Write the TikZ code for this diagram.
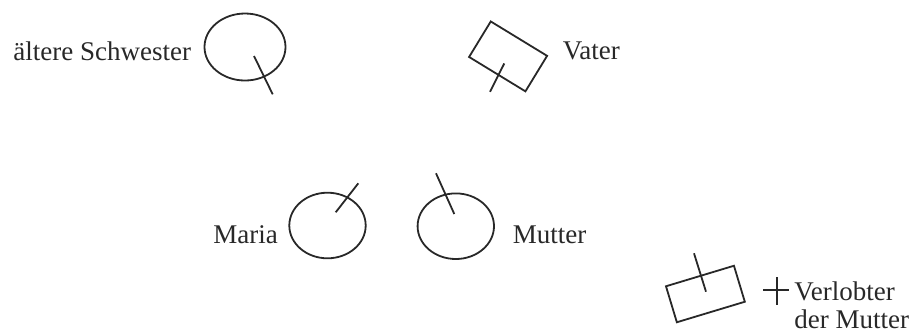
\documentclass[tikz,border=0pt]{standalone}
\usepackage{fontspec}
\setmainfont{Liberation Serif}
\usepackage{xcolor}
\usepackage{tikz}
\usetikzlibrary{shapes.geometric}
\definecolor{FamInk}{RGB}{40, 40, 40}

\begin{document}
\begin{tikzpicture}[x=0.5pt,y=-0.5pt,
  famline/.style={FamInk, line width=0.9pt},
  female/.style={famline, draw, ellipse, inner sep=0pt},
  male/.style={famline, draw, rectangle, inner sep=0pt, minimum width=33pt, minimum height=20.8pt},
  famlabel/.style={inner sep=0pt, anchor=base west, text=FamInk, font=\fontsize{13.5}{14.15}\selectfont}]
  \path[use as bounding box] (0,0) rectangle (912,334);
  \node[female, minimum width=40.5pt, minimum height=33.5pt] (schwester) at (245,47) {};
  \node[male, rotate=-31.4] (vater) at (508.1,56.4) {};
  \node[female, minimum width=38.2pt, minimum height=32.8pt] (maria) at (327.5,225.5) {};
  \node[female, minimum width=38.2pt, minimum height=32.8pt] (mutter) at (455.8,226.2) {};
  \node[male, rotate=16.8, minimum width=35.5pt, minimum height=18.8pt] (verlobter) at (705.4,294) {};
  \draw[famline] (schwester.center) ++(9,9) -- ++(18.7,38.3);
  \draw[famline] (vater.center) ++(-3.8,7) -- ++(-14.3,28.4);
  \draw[famline] (maria.center) ++(8.2,-13.2) -- ++(22.6,-29);
  \draw[famline] (mutter.center) ++(-1.5,-12.2) -- ++(-18.3,-40.7);
  \draw[famline] (verlobter.center) ++(0.6,-2.3) -- ++(-12,-38.4);
  \node[famlabel] (schwesterlabel) at (13,60.5) {ältere Schwester};
  \node[famlabel] (vaterlabel) at (562.5,59.3) {Vater};
  \node[famlabel] (marialabel) at (213,243.3) {Maria};
  \node[famlabel] (mutterlabel) at (512.5,243.3) {Mutter};
  \draw[famline] (763,290) -- (789,290) (776.7,277.3) -- (776.7,305);
  \node[famlabel, align=left] (verlobterlabel) at (794,328.3) {Verlobter\\der Mutter};
\end{tikzpicture}
\end{document}
